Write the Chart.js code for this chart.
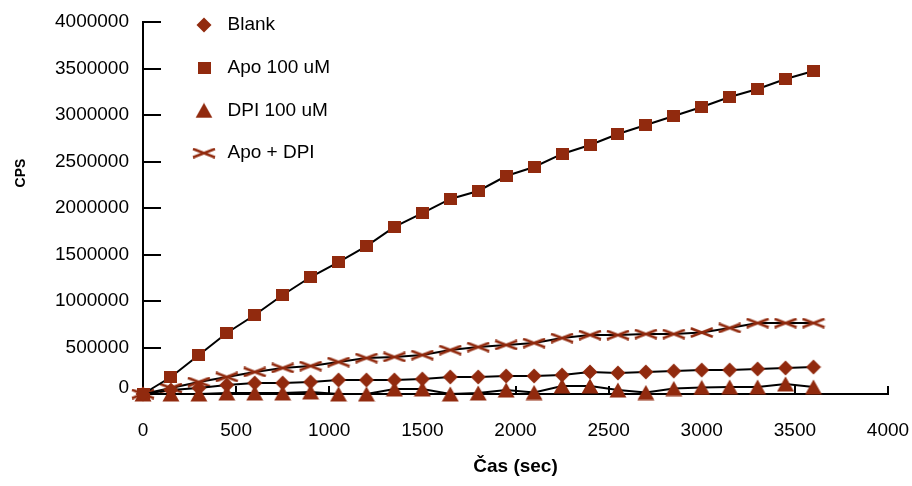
<!DOCTYPE html>
<html><head><meta charset="utf-8">
<script src="https://cdn.jsdelivr.net/npm/chart.js@4.4.0/dist/chart.umd.min.js"></script>
<style>html,body{margin:0;padding:0;background:#fff}</style>
</head><body>
<canvas id="c" width="912" height="486"></canvas>
<script>
// ---- data ----
const times  = [0,150,300,450,600,750,900,1050,1200,1350,1500,1650,1800,1950,2100,2250,2400,2550,2700,2850,3000,3150,3300,3450,3600];
const blank  = [0,43000,64500,97000,118000,118000,129000,151000,151000,151000,161000,183000,183000,194000,194000,204000,237000,226000,237000,247000,258000,258000,269000,280000,290000];
const apo    = [0,183000,419000,656000,849000,1065000,1258000,1419000,1591000,1796000,1946000,2097000,2183000,2344000,2441000,2581000,2677000,2796000,2893000,2989000,3086000,3194000,3280000,3387000,3473000];
const dpi    = [0,0,0,11000,11000,11000,22000,0,0,54000,54000,0,11000,43000,16000,86000,86000,43000,16000,59000,70000,75000,75000,108000,75000];
const apoDpi = [0,64500,129000,183000,237000,280000,301000,344000,387000,398000,419000,473000,505000,527000,548000,602000,634000,634000,645000,645000,661000,710000,763000,763000,763000];
const seriesNames = ['Blank','Apo 100 uM','DPI 100 uM','Apo + DPI'];
const xTickRange = [0, 4000, 500];
const yTickRange = [0, 4000000, 500000];
const xTitle = 'Čas (sec)';
const yTitle = 'CPS';

// ---- styles ----
const FF = "'Liberation Sans', Arial, Helvetica, sans-serif";
const MC = '#912a0e';
function mk(w,h,draw){const c=document.createElement('canvas');c.width=w;c.height=h;const g=c.getContext('2d');g.fillStyle=MC;g.strokeStyle=MC;draw(g,w,h);return c;}
const diamond = mk(16,16,g=>{g.beginPath();g.moveTo(8,0.5);g.lineTo(15.5,8);g.lineTo(8,15.5);g.lineTo(0.5,8);g.closePath();g.fill();});
const square  = mk(13,12,g=>{g.fillRect(0,0,13,12);});
const tri     = mk(18,16,g=>{g.beginPath();g.moveTo(9,0.5);g.lineTo(17.5,15.5);g.lineTo(0.5,15.5);g.closePath();g.fill();});
const cross   = mk(24,11,g=>{g.lineWidth=2.6;g.beginPath();g.moveTo(1,1.3);g.lineTo(23,9.7);g.moveTo(1,9.7);g.lineTo(23,1.3);g.stroke();});

function pts(ys){return times.map((t,i)=>({x:t,y:ys[i]}));}
const common = {borderColor:'#000',borderWidth:2,tension:0,pointRadius:8,pointHoverRadius:8,
  pointBackgroundColor:MC,pointBorderColor:MC,clip:false,fill:false};

const legendPos = {id:'legendPos', afterLayout(chart){
  const L = chart.legend; if(!L) return;
  L.left = 166.3; L.top = -8.2; L.right = L.left + L.width; L.bottom = L.top + 372;
}};
const yTitlePlugin = {id:'yTitlePlugin', afterDraw(chart){
  const ctx = chart.ctx; ctx.save(); ctx.translate(21,173); ctx.rotate(-Math.PI/2);
  ctx.font = 'bold 14px ' + FF; ctx.fillStyle = '#000'; ctx.textAlign='center'; ctx.textBaseline='middle';
  ctx.fillText(yTitle,0,0); ctx.restore();
}};

new Chart(document.getElementById('c'), {
  type:'line',
  data:{datasets:[
    Object.assign({label:seriesNames[0], data:pts(blank), pointStyle:diamond}, common),
    Object.assign({label:seriesNames[1], data:pts(apo), pointStyle:square}, common),
    Object.assign({label:seriesNames[2], data:pts(dpi), pointStyle:tri}, common),
    Object.assign({label:seriesNames[3], data:pts(apoDpi), pointStyle:cross}, common)
  ]},
  plugins:[legendPos, yTitlePlugin],
  options:{
    responsive:false, animation:false, devicePixelRatio:1,
    layout:{padding:{left:0,top:22,right:24,bottom:0}},
    plugins:{
      legend:{position:'chartArea', align:'start',
        labels:{usePointStyle:true, pointStyleWidth:28, padding:23.7, color:'#000', font:{family:FF,size:19}}},
      tooltip:{enabled:false}
    },
    scales:{
      x:{type:'linear', min:xTickRange[0], max:xTickRange[1],
        ticks:{stepSize:xTickRange[2], color:'#000', font:{family:FF,size:19}, padding:33.6, maxRotation:0, autoSkip:false,
          callback:v=>String(v)},
        grid:{drawOnChartArea:false, drawTicks:true, tickLength:-8, color:'#000', lineWidth:2},
        border:{display:true, color:'#000', width:2},
        title:{display:true, text:xTitle, color:'#000', font:{family:FF,size:19,weight:'bold'}, padding:{top:0,bottom:7.6}},
        afterFit(s){ s.height = 92; s.paddingLeft = 0; s.paddingRight = 0; }
      },
      y:{type:'linear', min:yTickRange[0], max:yTickRange[1],
        ticks:{stepSize:yTickRange[2], color:'#000', padding:32,
          font:(c)=> (c.tick && c.tick.value===0) ? {family:FF,size:19,lineHeight:12/19} : {family:FF,size:19},
          callback:v=> v===0 ? ['0',''] : String(v)},
        grid:{drawOnChartArea:false, drawTicks:true, tickLength:-18, color:'#000', lineWidth:2},
        border:{display:true, color:'#000', width:2},
        afterFit(s){ s.width = 143; s.paddingTop = 0; s.paddingBottom = 0; }
      }
    }
  }
});
</script>
</body></html>
